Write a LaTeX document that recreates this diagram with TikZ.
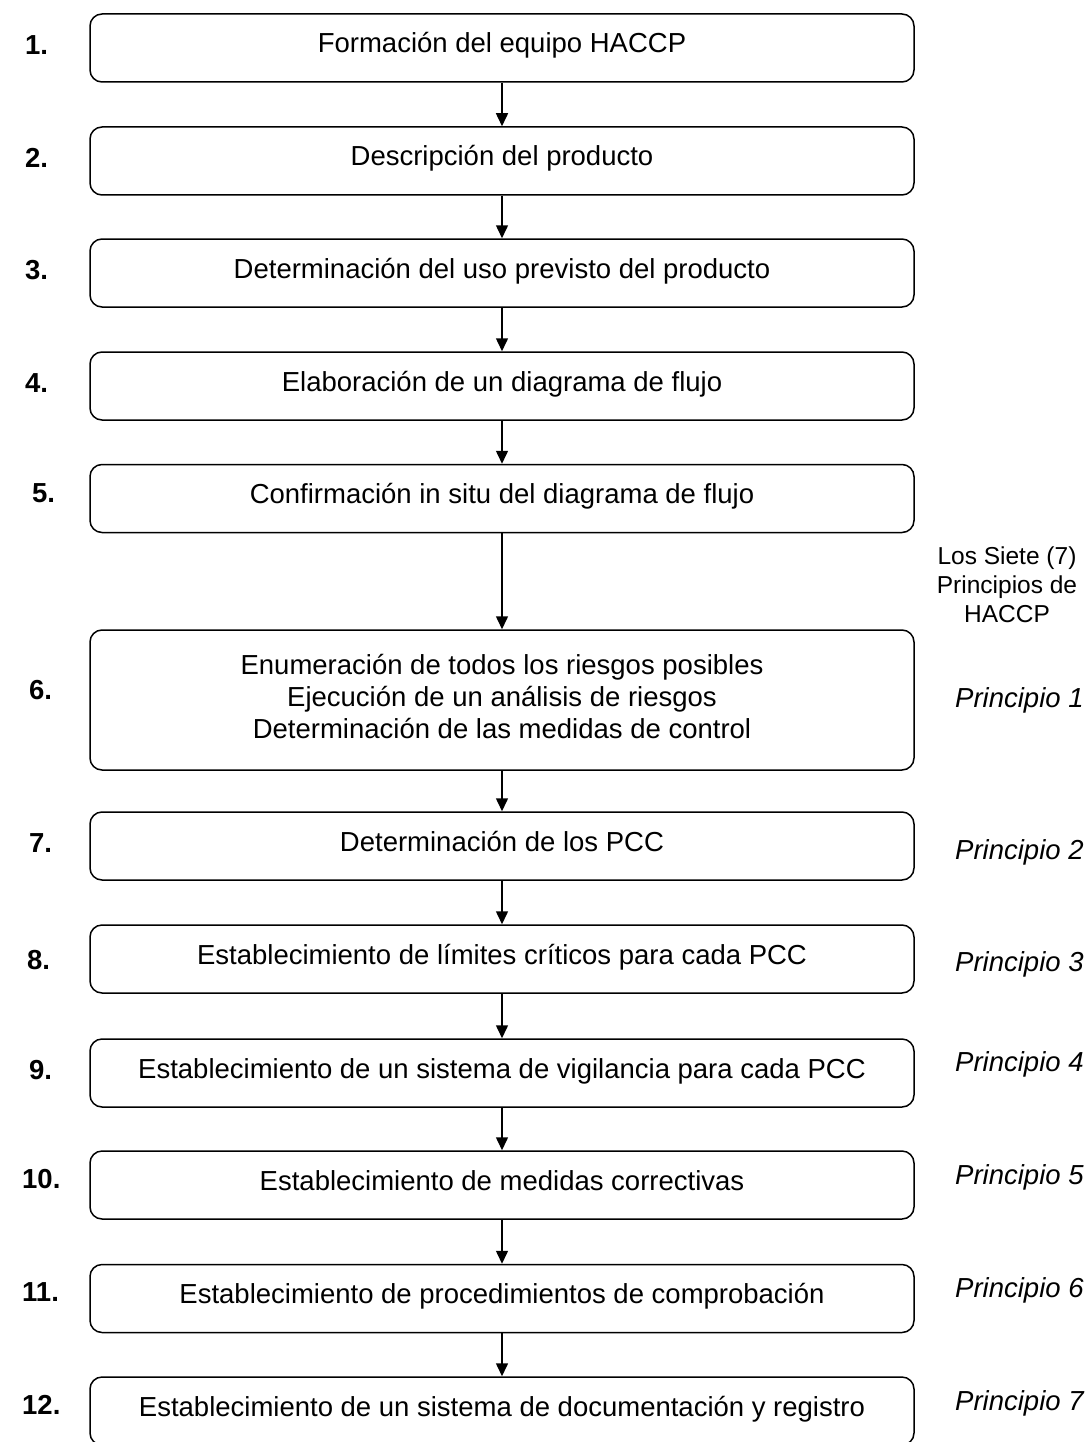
\documentclass[tikz,border=0pt]{standalone}
\usepackage{fontspec}
\setmainfont{Liberation Sans}
\usepackage{tikz}
\usetikzlibrary{arrows.meta}
\tikzset{
  stepbase/.style={rectangle,draw=black,line width=1.5pt,rounded corners=12pt,
    minimum width=824pt,inner sep=0pt,align=center,
    font=\fontsize{27.5}{32}\selectfont},
  stepbox/.style={stepbase,minimum height=68pt,text height=20pt,text depth=10pt},
  bigstepbox/.style={stepbase,minimum height=140pt},
  numlabel/.style={anchor=west,inner sep=0pt,font=\fontsize{27.5}{32}\selectfont\bfseries},
  princlabel/.style={anchor=west,inner sep=0pt,font=\fontsize{27.5}{32}\selectfont\itshape},
  sietelabel/.style={align=center,inner sep=0pt,font=\fontsize{24.5}{29}\selectfont},
  flowarrow/.style={-{Triangle[length=13pt,width=12pt]},line width=1.5pt}
}

\begin{document}
\begin{tikzpicture}[x=1pt,y=-1pt]
  \useasboundingbox (0,0) rectangle (1090,1442);
  \node[stepbox] (s1) at (502,48) {Formación del equipo HACCP};
  \node[stepbox] (s2) at (502,161) {Descripción del producto};
  \node[stepbox] (s3) at (502,273) {Determinación del uso previsto del producto};
  \node[stepbox] (s4) at (502,386) {Elaboración de un diagrama de flujo};
  \node[stepbox] (s5) at (502,498.5) {Confirmación in situ del diagrama de flujo};
  \node[bigstepbox] (s6) at (502,700)
    {Enumeración de todos los riesgos posibles\\
     Ejecución de un análisis de riesgos\\
     Determinación de las medidas de control\rule[-8pt]{0pt}{8pt}};
  \node[stepbox] (s7) at (502,846) {Determinación de los PCC};
  \node[stepbox] (s8) at (502,959) {Establecimiento de límites críticos para cada PCC};
  \node[stepbox] (s9) at (502,1073) {Establecimiento de un sistema de vigilancia para cada PCC};
  \node[stepbox] (s10) at (502,1185) {Establecimiento de medidas correctivas};
  \node[stepbox] (s11) at (502,1298.5) {Establecimiento de procedimientos de comprobación};
  \node[stepbox] (s12) at (502,1411) {Establecimiento de un sistema de documentación y registro};
  \draw[flowarrow] (s1) -- (s2);
  \draw[flowarrow] (s2) -- (s3);
  \draw[flowarrow] (s3) -- (s4);
  \draw[flowarrow] (s4) -- (s5);
  \draw[flowarrow] (s5) -- (s6);
  \draw[flowarrow] (s6) -- (s7);
  \draw[flowarrow] (s7) -- (s8);
  \draw[flowarrow] (s8) -- (s9);
  \draw[flowarrow] (s9) -- (s10);
  \draw[flowarrow] (s10) -- (s11);
  \draw[flowarrow] (s11) -- (s12);
  \node[numlabel] (n1) at (25,45) {1.};
  \node[numlabel] (n2) at (25,158) {2.};
  \node[numlabel] (n3) at (25,270) {3.};
  \node[numlabel] (n4) at (25,383) {4.};
  \node[numlabel] (n5) at (32,493) {5.};
  \node[numlabel] (n6) at (29,690) {6.};
  \node[numlabel] (n7) at (29,843) {7.};
  \node[numlabel] (n8) at (27,960) {8.};
  \node[numlabel] (n9) at (29,1070) {9.};
  \node[numlabel] (n10) at (22,1179) {10.};
  \node[numlabel] (n11) at (22,1292) {11.};
  \node[numlabel] (n12) at (22,1405) {12.};
  \node[sietelabel] (siete) at (1007,585) {Los Siete (7)\\Principios de\\HACCP};
  \node[princlabel] (p1) at (955,700) {Principio 1};
  \node[princlabel] (p2) at (955,852) {Principio 2};
  \node[princlabel] (p3) at (955,964) {Principio 3};
  \node[princlabel] (p4) at (955,1064) {Principio 4};
  \node[princlabel] (p5) at (955,1177) {Principio 5};
  \node[princlabel] (p6) at (955,1290) {Principio 6};
  \node[princlabel] (p7) at (955,1403) {Principio 7};
\end{tikzpicture}
\end{document}
